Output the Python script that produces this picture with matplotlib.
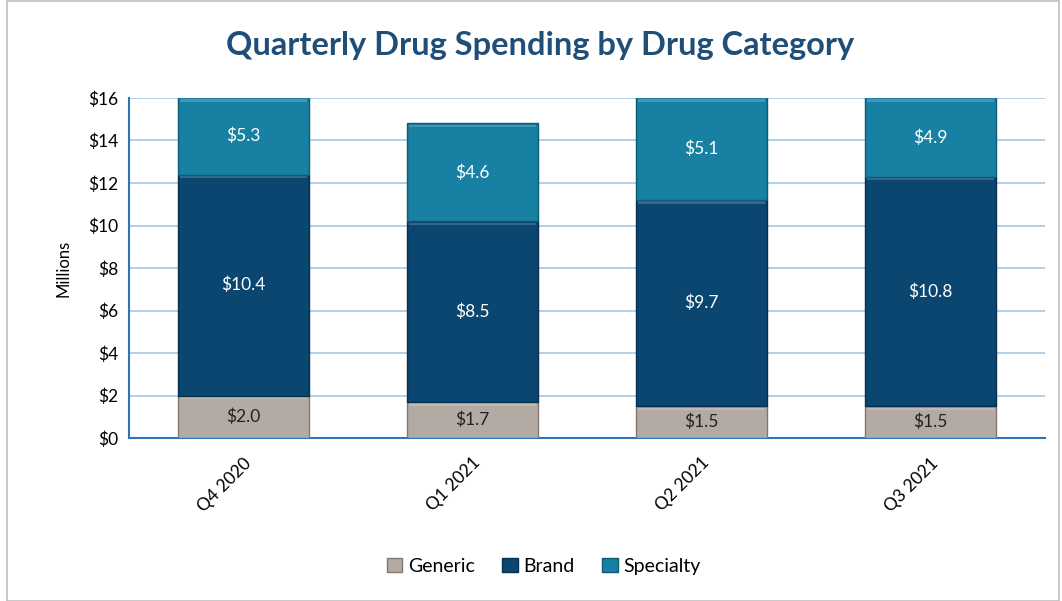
import matplotlib
matplotlib.use("Agg")
import matplotlib.pyplot as plt
from matplotlib.patches import Rectangle
import numpy as np

categories = ["Q4 2020", "Q1 2021", "Q2 2021", "Q3 2021"]
generic = [2.0, 1.7, 1.5, 1.5]
brand = [10.4, 8.5, 9.7, 10.8]
specialty = [5.3, 4.6, 5.1, 4.9]
yticks = [0, 2, 4, 6, 8, 10, 12, 14, 16]

plt.rcParams['font.family'] = ['Lato', 'DejaVu Sans']

fig = plt.figure(figsize=(10.62, 6.01), dpi=100)
fig.patches.append(Rectangle((0.007, 0.0), 0.99, 0.998, transform=fig.transFigure,
                             fill=False, edgecolor="#bfbfbf", linewidth=1.2))
ax = fig.add_axes([0.1215, 0.271, 0.8625, 0.566])

x = np.arange(len(categories))
w = 0.57
ymax = 16
series = [("Generic", generic, "#b3aaa4", "#7f7873", "#222222"),
          ("Brand", brand, "#0b4671", "#06304f", "white"),
          ("Specialty", specialty, "#1880a2", "#0f5a73", "white")]
bottom = np.zeros(len(categories))
handles = []
for name, vals, col, ec, tc in series:
    vals = np.array(vals)
    b = ax.bar(x, vals, w, bottom=bottom, color=col, edgecolor=ec, linewidth=1.0,
               label=name, zorder=3)
    handles.append(b)
    # highlight strip at top of each segment for bevel look
    top = np.minimum(bottom + vals, ymax)
    ax.bar(x, [0.12] * len(x), w * 0.97, bottom=top - 0.18, color="white", alpha=0.18,
           linewidth=0, zorder=4)
    for xi, bo, v in zip(x, bottom, vals):
        t = min(bo + v, ymax)
        ax.text(xi, (bo + t) / 2, f"${v:.1f}", ha="center", va="center",
                color=tc, fontsize=12.5, zorder=5)
    bottom = bottom + vals

ax.set_xlim(-0.5, 3.5)
ax.set_ylim(0, ymax)
ax.set_yticks(yticks)
ax.set_yticklabels([f"${v}" for v in yticks], fontsize=12.5)
ax.set_xticks(x)
ax.set_xticklabels(categories, rotation=45, ha="right", rotation_mode="anchor", fontsize=12.5)
ax.tick_params(axis="both", length=0, pad=8)
ax.tick_params(axis="x", pad=12)
ax.yaxis.grid(True, color="#a9cbeb", linewidth=1.3, zorder=0)
ax.set_axisbelow(True)
for s in ["top", "right"]:
    ax.spines[s].set_visible(False)
for s in ["left", "bottom"]:
    ax.spines[s].set_color("#2e75b6")
    ax.spines[s].set_linewidth(1.5)
ax.set_ylabel("Millions", fontsize=12, labelpad=12)

fig.text(0.509, 0.925, "Quarterly Drug Spending by Drug Category", ha="center", va="center",
         fontsize=23.5, fontweight="bold", color="#1f4e79")

fig.legend(handles=handles, labels=["Generic", "Brand", "Specialty"], loc="center",
           bbox_to_anchor=(0.512, 0.058), ncol=3, frameon=False, fontsize=14,
           handlelength=0.8, handleheight=0.8, handletextpad=0.3, columnspacing=1.4)

fig.savefig("out.png", dpi=100)
